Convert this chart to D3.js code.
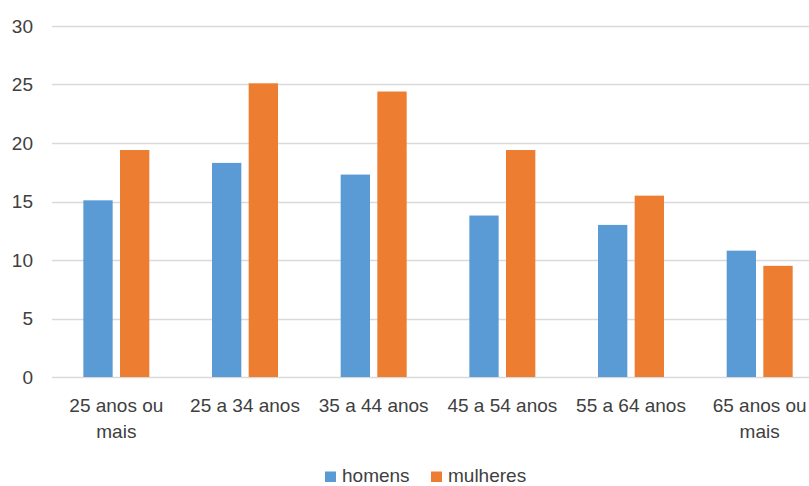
<!DOCTYPE html>
<html>
<head>
<meta charset="utf-8">
<script src="https://cdn.jsdelivr.net/npm/d3@7"></script>
<style>
  html, body { margin: 0; padding: 0; background: #fff; }
  svg { display: block; font-family: "Liberation Sans", Arial, sans-serif; }
</style>
</head>
<body>
<svg id="chart" width="809" height="486"></svg>
<script>
const categories = ["25 anos ou mais", "25 a 34 anos", "35 a 44 anos", "45 a 54 anos", "55 a 64 anos", "65 anos ou mais"];
const seriesNames = ["homens", "mulheres"];
const homens   = [15.1, 18.3, 17.3, 13.8, 13.0, 10.8];
const mulheres = [19.4, 25.1, 24.4, 19.4, 15.5, 9.5];
const yTicks = [0, 5, 10, 15, 20, 25, 30];
const colors = ["#5B9BD5", "#ED7D31"];

const values = { homens, mulheres };
const data = categories.map((c, i) => ({ cat: c, vals: seriesNames.map(s => ({ s, v: values[s][i] })) }));

const svg = d3.select("#chart");
const plotLeft = 52, plotRight = 824, plotTop = 26, plotBottom = 377;
const textColor = "#404040";
const fontSize = 19;

const x0 = d3.scaleBand().domain(categories).range([plotLeft, plotRight]).padding(0);
const groupW = 66;
const x1 = d3.scaleBand().domain(seriesNames)
  .range([x0.bandwidth() / 2 - groupW / 2, x0.bandwidth() / 2 + groupW / 2])
  .paddingInner(0.2).paddingOuter(0);
const y = d3.scaleLinear().domain([0, 30]).range([plotBottom, plotTop]);
const color = d3.scaleOrdinal().domain(seriesNames).range(colors);

// gridlines
svg.append("g").selectAll("line").data(yTicks).join("line")
  .attr("x1", plotLeft).attr("x2", plotRight)
  .attr("y1", d => Math.round(y(d)) + 0.5).attr("y2", d => Math.round(y(d)) + 0.5)
  .attr("stroke", "#d9d9d9").attr("stroke-width", 1.3);

// y axis labels
const yAxis = d3.axisLeft(y).tickValues(yTicks).tickSize(0).tickPadding(0);
const gy = svg.append("g").attr("transform", `translate(33,0)`).call(yAxis);
gy.select(".domain").remove();
gy.selectAll("text").attr("fill", textColor).style("font-size", fontSize + "px")
  .style("font-family", '"Liberation Sans", Arial, sans-serif');

// bars
const groups = svg.append("g").selectAll("g").data(data).join("g")
  .attr("transform", d => `translate(${x0(d.cat)},0)`);
groups.selectAll("rect").data(d => d.vals).join("rect")
  .attr("x", d => x1(d.s))
  .attr("width", x1.bandwidth())
  .attr("y", d => y(d.v))
  .attr("height", d => y(0) - y(d.v))
  .attr("fill", d => color(d.s));

// x axis labels
const xAxis = d3.axisBottom(x0).tickSize(0).tickPadding(0);
const gx = svg.append("g").attr("transform", `translate(0,${plotBottom})`).call(xAxis);
gx.select(".domain").remove();
gx.selectAll("text").attr("fill", textColor).style("font-size", fontSize + "px")
  .style("font-family", '"Liberation Sans", Arial, sans-serif')
  .attr("dy", null).attr("y", 0)
  .each(function (d) {
    const t = d3.select(this);
    const words = d.split(" ");
    const maxW = x0.bandwidth() * 0.9;
    t.text(null);
    let lines = [], cur = [];
    const tmp = t.append("tspan");
    words.forEach(w => {
      const test = cur.concat([w]).join(" ");
      tmp.text(test);
      if (cur.length && tmp.node().getComputedTextLength() > maxW) {
        lines.push(cur.join(" "));
        cur = [w];
      } else cur.push(w);
    });
    lines.push(cur.join(" "));
    tmp.remove();
    lines.forEach((l, i) => {
      t.append("tspan").attr("x", 0).attr("y", 35 + i * 26).text(l);
    });
  });

// legend
const legend = svg.append("g");
const legendX = [325, 431];
seriesNames.forEach((s, i) => {
  legend.append("rect").attr("x", legendX[i]).attr("y", 471.5).attr("width", 11).attr("height", 10.5)
    .attr("fill", color(s));
  legend.append("text").attr("x", legendX[i] + 17).attr("y", 482)
    .attr("fill", textColor).style("font-size", fontSize + "px").text(s);
});
</script>
</body>
</html>
